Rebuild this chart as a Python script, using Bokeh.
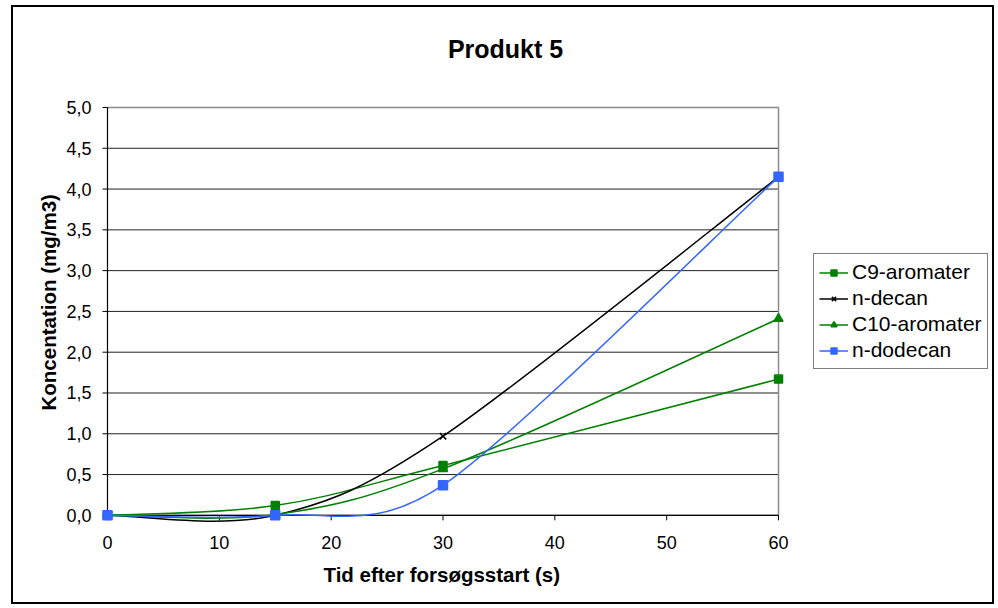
import math
from bokeh.plotting import figure
from bokeh.models import (CustomJSTickFormatter, FixedTicker, Legend, LegendItem,
                          Range1d, InlineStyleSheet, Title, Label)
from bokeh.embed import file_html
from bokeh.resources import INLINE

# ---- data ----
time_s = [0, 15, 30, 60]
c9_aromater = [0.0, 0.12, 0.61, 1.67]
n_decan = [0.0, 0.0, 0.97, 4.15]
c10_aromater = [0.0, 0.01, 0.57, 2.41]
n_dodecan = [0.0, 0.0, 0.37, 4.15]

series_names = ["C9-aromater", "n-decan", "C10-aromater", "n-dodecan"]
x_ticks = [0, 10, 20, 30, 40, 50, 60]
y_ticks = [0.0, 0.5, 1.0, 1.5, 2.0, 2.5, 3.0, 3.5, 4.0, 4.5, 5.0]

title_text = "Produkt 5"
x_label = "Tid efter forsøgsstart (s)"
y_label = "Koncentation (mg/m3)"

FONT = "Liberation Sans"

# pixels per data unit of the plot area (used only to shape the smoothing)
PX_X = 671 / 60.0
PX_Y = 408 / 5.0


def smooth_segments(xs, ys):
    """Bezier segments through the points (Excel-style smoothed line)."""
    n = len(xs)

    def dist(i, j):
        return math.hypot((xs[j] - xs[i]) * PX_X, (ys[j] - ys[i]) * PX_Y)

    tx, ty = [], []
    for i in range(n):
        if i == 0:
            f = 1 / 6.0
            tx.append(f * (xs[1] - xs[0])); ty.append(f * (ys[1] - ys[0]))
        elif i == n - 1:
            f = 1 / 6.0
            tx.append(f * (xs[i] - xs[i - 1])); ty.append(f * (ys[i] - ys[i - 1]))
        else:
            d_prev, d_next, d_span = dist(i - 1, i), dist(i, i + 1), dist(i - 1, i + 1)
            f = 1 / 6.0
            if d_span / 6.0 > min(d_prev, d_next) / 2.0:
                f = min(d_prev, d_next) / (2.0 * d_span)
            tx.append(f * (xs[i + 1] - xs[i - 1])); ty.append(f * (ys[i + 1] - ys[i - 1]))

    out = dict(x0=[], y0=[], x1=[], y1=[], cx0=[], cy0=[], cx1=[], cy1=[])
    for i in range(n - 1):
        out["x0"].append(xs[i]); out["y0"].append(ys[i])
        out["x1"].append(xs[i + 1]); out["y1"].append(ys[i + 1])
        out["cx0"].append(xs[i] + tx[i]); out["cy0"].append(ys[i] + ty[i])
        out["cx1"].append(xs[i + 1] - tx[i + 1]); out["cy1"].append(ys[i + 1] - ty[i + 1])
    return out


border_css = InlineStyleSheet(css="""
:host::after {
  content: "";
  position: absolute;
  left: 11px; top: 5px; width: 979px; height: 595px;
  border: 2px solid black;
  pointer-events: none;
  z-index: 10;
}
""")

# the frame reaches past the plot area (to the right and up) so that markers,
# the legend and the title are not clipped
p = figure(width=998, height=608, output_backend="svg", toolbar_location=None,
           x_range=Range1d(-0.626, 79.67), y_range=Range1d(-0.1, 6.189),
           min_border_left=100, min_border_right=0,
           min_border_top=10, min_border_bottom=85,
           stylesheets=[border_css])
p.background_fill_color = "white"
p.border_fill_color = "white"
p.outline_line_color = None

# chart title
p.add_layout(Label(x=35.59, y=5.723, text=title_text, text_font=FONT,
                   text_font_size="25px", text_font_style="bold",
                   text_color="black", text_align="center",
                   text_baseline="middle"))

# grid (from tick arrays, limited to the plot area)
p.xgrid.visible = False
p.ygrid.visible = False
n_y = len(y_ticks)
p.segment(x0=[x_ticks[0]] * n_y, y0=y_ticks, x1=[x_ticks[-1]] * n_y, y1=y_ticks,
          line_color="#222222", line_width=1)
# plot-area border, right and top (grey)
p.segment(x0=[x_ticks[-1], x_ticks[0]], y0=[y_ticks[0], y_ticks[-1]],
          x1=[x_ticks[-1], x_ticks[-1]], y1=[y_ticks[-1], y_ticks[-1]],
          line_color="#8c8c8c", line_width=1.5)
# axis lines
p.segment(x0=[x_ticks[0], x_ticks[0]], y0=[y_ticks[0], y_ticks[0]],
          x1=[x_ticks[0], x_ticks[-1]], y1=[y_ticks[-1], y_ticks[0]],
          line_color="black", line_width=1.2)
# tick marks (pointing outward, 5 px)
p.ray(x=[x_ticks[0]] * n_y, y=y_ticks, length=5, length_units="screen",
      angle=math.pi, line_color="black", line_width=1)
p.ray(x=x_ticks, y=[y_ticks[0]] * len(x_ticks), length=5, length_units="screen",
      angle=-math.pi / 2, line_color="black", line_width=1)

# axes: tick labels only
fmt = CustomJSTickFormatter(code="return tick.toFixed(1).replace('.', ',');")
p.yaxis.ticker = FixedTicker(ticks=y_ticks)
p.yaxis.formatter = fmt
p.xaxis.ticker = FixedTicker(ticks=x_ticks)
for ax in (p.xaxis[0], p.yaxis[0]):
    ax.axis_line_color = None
    ax.major_tick_line_color = None
    ax.minor_tick_line_color = None
    ax.major_tick_out = 0
    ax.major_tick_in = 0
    ax.major_label_text_font = FONT
    ax.major_label_text_font_size = "18px"
    ax.major_label_text_color = "black"
p.xaxis.major_label_standoff = 12
p.yaxis.major_label_standoff = 9

# axis titles
p.add_layout(Title(text=x_label, text_font=FONT, text_font_size="20.5px",
                   text_font_style="bold", text_color="black",
                   align="left", offset=223, standoff=19), "below")
p.add_layout(Title(text=y_label, text_font=FONT, text_font_size="20.5px",
                   text_font_style="bold", text_color="black",
                   align="left", offset=113, standoff=8), "left")

styles = [
    (c9_aromater, "#008000", "square", 8),
    (n_decan, "#000000", "x", 9),
    (c10_aromater, "#008000", "triangle", 9),
    (n_dodecan, "#3366FF", "square", 9),
]

items = []
for name, (vals, color, marker, size) in zip(series_names, styles):
    seg = smooth_segments(time_s, vals)
    r_line = p.bezier(x0="x0", y0="y0", x1="x1", y1="y1", cx0="cx0", cy0="cy0",
                      cx1="cx1", cy1="cy1", source=seg, line_color=color,
                      line_width=1.5)
    r_mark = p.scatter(time_s, vals, marker=marker, size=size,
                       fill_color=color, line_color=color, line_width=1.5)
    items.append(LegendItem(label=name, renderers=[r_line, r_mark]))

legend = Legend(items=items, location=(713, 154))
legend.label_text_font = FONT
legend.label_text_font_size = "21px"
legend.label_text_color = "black"
legend.border_line_color = "black"
legend.border_line_width = 1
legend.background_fill_color = "white"
legend.glyph_width = 29
legend.glyph_height = 15
legend.label_height = 26
legend.label_standoff = 4
legend.spacing = 0
legend.padding = 5
legend.margin = 0
p.add_layout(legend)

open("out.html", "w").write(file_html(p, INLINE))
